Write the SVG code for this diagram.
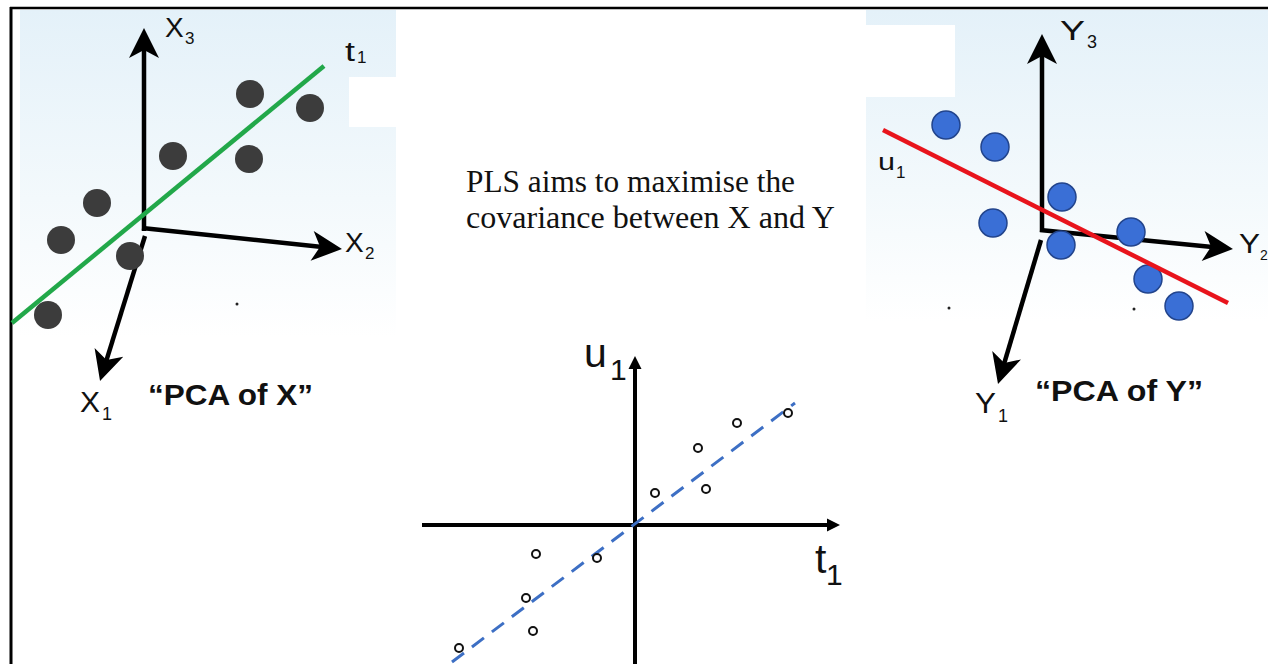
<svg xmlns="http://www.w3.org/2000/svg" width="1268" height="664" viewBox="0 0 1268 664">
  <defs>
    <linearGradient id="bgL" x1="0" y1="0" x2="0" y2="1">
      <stop offset="0" stop-color="#e4f1f9"/>
      <stop offset="0.45" stop-color="#f3f9fc"/>
      <stop offset="0.78" stop-color="#ffffff"/>
    </linearGradient>
    <marker id="barb" markerUnits="userSpaceOnUse" markerWidth="40" markerHeight="40" viewBox="-34 -20 40 40" refX="-8" refY="0" orient="auto">
      <path d="M0,0 L-30,-15 L-22,0 L-30,15 Z" fill="#000"/>
    </marker>
    <marker id="tri" markerUnits="userSpaceOnUse" markerWidth="20" markerHeight="20" viewBox="-16 -10 20 20" refX="-6" refY="0" orient="auto">
      <path d="M0,0 L-13,-6.5 L-13,6.5 Z" fill="#000"/>
    </marker>
    <style>
      .ax { stroke: #000; stroke-width: 4.5; fill: none; }
      .ax2 { stroke: #000; stroke-width: 4; fill: none; }
      .lbl { font-family: "Liberation Sans", Arial, sans-serif; fill: #111; }
      .pca { font-family: "Liberation Sans", Arial, sans-serif; font-weight: bold; font-size: 30px; fill: #111; }
      .ser { font-family: "Liberation Serif", "Times New Roman", serif; font-size: 31px; fill: #111; }
      .gd { fill: #3c3c3c; }
      .bd { fill: #3a6fd6; stroke: #22448c; stroke-width: 1.5; }
      .oc { fill: #fff; stroke: #111; stroke-width: 2; }
      .spk { fill: #222; }
    </style>
  </defs>

  <rect x="0" y="0" width="1268" height="664" fill="#fff"/>

  <!-- panel backgrounds -->
  <g id="backgrounds">
    <rect x="20" y="10" width="376" height="420" fill="url(#bgL)"/>
    <rect x="349" y="77" width="50" height="50" fill="#fff"/>
    <rect x="866" y="10" width="402" height="400" fill="url(#bgL)"/>
    <rect x="866" y="25" width="89" height="72" fill="#fff"/>
  </g>

  <!-- frame -->
  <g id="frame">
    <line x1="10" y1="8" x2="1268" y2="8" stroke="#000" stroke-width="2.5"/>
    <line x1="11" y1="7" x2="11" y2="664" stroke="#000" stroke-width="3"/>
  </g>

  <!-- PCA of X panel -->
  <g id="pcaX">
    <line class="ax" x1="144" y1="231" x2="144" y2="36" marker-end="url(#barb)"/>
    <line class="ax" x1="142" y1="228" x2="334" y2="248.2" marker-end="url(#barb)"/>
    <line class="ax" x1="145" y1="236" x2="102.4" y2="373.4" marker-end="url(#barb)"/>
    <line x1="12" y1="323" x2="324" y2="66" stroke="#22a84a" stroke-width="4.5"/>
    <circle class="gd" cx="250" cy="94" r="14"/>
    <circle class="gd" cx="310" cy="108" r="14"/>
    <circle class="gd" cx="173" cy="156" r="14"/>
    <circle class="gd" cx="249" cy="159" r="14"/>
    <circle class="gd" cx="97" cy="203" r="14"/>
    <circle class="gd" cx="61" cy="240" r="14"/>
    <circle class="gd" cx="130" cy="256" r="14"/>
    <circle class="gd" cx="48" cy="315" r="14"/>
    <circle class="spk" cx="237" cy="304" r="1.5"/>
    <text class="lbl" x="165" y="37" font-size="28">X</text>
    <text class="lbl" x="185" y="44" font-size="17">3</text>
    <text class="lbl" x="345" y="61" font-size="27" textLength="10" lengthAdjust="spacingAndGlyphs">t</text>
    <text class="lbl" x="357" y="63" font-size="17">1</text>
    <text class="lbl" x="345" y="252" font-size="28">X</text>
    <text class="lbl" x="365" y="259" font-size="17">2</text>
    <text class="lbl" x="80" y="412" font-size="30">X</text>
    <text class="lbl" x="102" y="420" font-size="18">1</text>
    <text class="pca" x="148" y="405" textLength="165" lengthAdjust="spacingAndGlyphs">“PCA of X”</text>
  </g>

  <!-- PCA of Y panel -->
  <g id="pcaY">
    <line class="ax" x1="1042" y1="232" x2="1042" y2="42" marker-end="url(#barb)"/>
    <line class="ax" x1="1040" y1="230" x2="1225" y2="248.2" marker-end="url(#barb)"/>
    <line class="ax" x1="1041" y1="240" x2="1000.3" y2="376.3" marker-end="url(#barb)"/>
    <circle class="bd" cx="946" cy="125" r="14"/>
    <circle class="bd" cx="995" cy="147" r="14"/>
    <circle class="bd" cx="1062" cy="197" r="14"/>
    <circle class="bd" cx="993" cy="223" r="14"/>
    <circle class="bd" cx="1061" cy="245" r="14"/>
    <circle class="bd" cx="1131" cy="232" r="14"/>
    <circle class="bd" cx="1148" cy="279" r="14"/>
    <circle class="bd" cx="1179" cy="306" r="14"/>
    <line x1="883" y1="130" x2="1228" y2="303" stroke="#e8141c" stroke-width="4.5"/>
    <circle class="spk" cx="949" cy="308" r="1.5"/>
    <circle class="spk" cx="1134" cy="309" r="1.5"/>
    <text class="lbl" x="1060" y="40" font-size="28" textLength="25" lengthAdjust="spacingAndGlyphs">Y</text>
    <text class="lbl" x="1087" y="48" font-size="18">3</text>
    <text class="lbl" x="878" y="170" font-size="24" textLength="17" lengthAdjust="spacingAndGlyphs">u</text>
    <text class="lbl" x="896" y="178" font-size="17">1</text>
    <text class="lbl" x="1239" y="253" font-size="28" textLength="21" lengthAdjust="spacingAndGlyphs">Y</text>
    <text class="lbl" x="1260" y="260" font-size="14">2</text>
    <text class="lbl" x="975" y="413" font-size="30" textLength="21" lengthAdjust="spacingAndGlyphs">Y</text>
    <text class="lbl" x="998" y="422" font-size="18">1</text>
    <text class="pca" x="1035" y="401" textLength="168" lengthAdjust="spacingAndGlyphs">“PCA of Y”</text>
  </g>

  <!-- caption -->
  <g id="caption">
    <text class="ser" x="466" y="192" textLength="329" lengthAdjust="spacingAndGlyphs">PLS aims to maximise the</text>
    <text class="ser" x="466" y="228" textLength="369" lengthAdjust="spacingAndGlyphs">covariance between X and Y</text>
  </g>

  <!-- t1 vs u1 score plot -->
  <g id="scorePlot">
    <line class="ax2" x1="635" y1="664" x2="635" y2="362" marker-end="url(#tri)"/>
    <line class="ax2" x1="422" y1="525" x2="834" y2="525" marker-end="url(#tri)"/>
    <line x1="452" y1="662" x2="795" y2="403" stroke="#3d6fc4" stroke-width="3" stroke-dasharray="15 10"/>
    <circle class="oc" cx="788" cy="413" r="4"/>
    <circle class="oc" cx="737" cy="423" r="4"/>
    <circle class="oc" cx="698" cy="448" r="4"/>
    <circle class="oc" cx="706" cy="489" r="4"/>
    <circle class="oc" cx="655" cy="493" r="4"/>
    <circle class="oc" cx="536" cy="554" r="4"/>
    <circle class="oc" cx="597" cy="558" r="4"/>
    <circle class="oc" cx="526" cy="598" r="4"/>
    <circle class="oc" cx="533" cy="631" r="4"/>
    <circle class="oc" cx="459" cy="648" r="4"/>
    <text class="lbl" x="584" y="367" font-size="41">u</text>
    <text class="lbl" x="610" y="380" font-size="30">1</text>
    <text class="lbl" x="815" y="573" font-size="41">t</text>
    <text class="lbl" x="826" y="585" font-size="30">1</text>
  </g>
</svg>
